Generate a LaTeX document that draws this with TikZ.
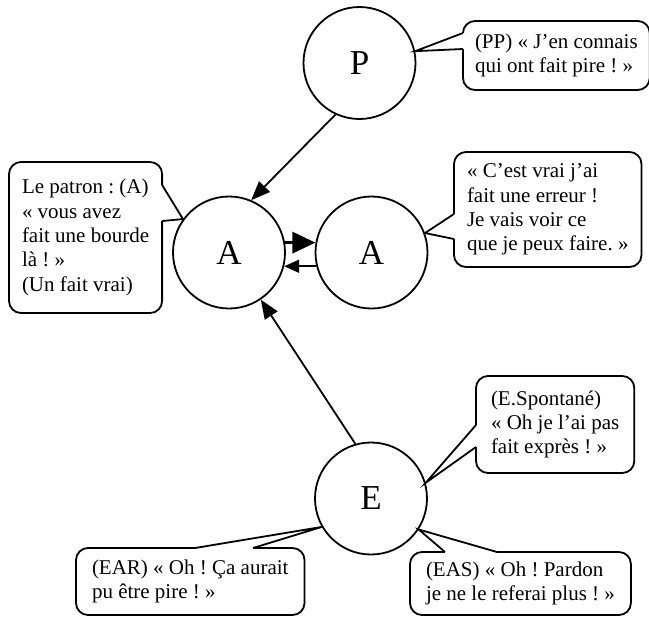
\documentclass[tikz,border=0pt]{standalone}
\usepackage{fontspec}
\setmainfont{Liberation Serif}
\usetikzlibrary{arrows.meta}
\frenchspacing

\tikzset{
  perso/.style={circle, draw, line width=0.9pt, minimum size=56pt, inner sep=0pt, font=\fontsize{17.5}{20}\selectfont},
  bulle/.style={draw, line width=0.9pt, rounded corners=6pt, anchor=north west, outer sep=0pt, inner ysep=0pt, align=left, font=\fontsize{10.5}{12.2}\selectfont},
  pointe/.style={draw, line width=0.9pt, line join=miter},
  fleche/.style={-{Triangle[length=9.5pt, width=7.5pt]}, line width=0.9pt}
}

\begin{document}
\begin{tikzpicture}[x=0.5pt, y=-0.5pt]
  \useasboundingbox (0,0) rectangle (649,617);

  % Personnages
  \node[perso] (P) at (359.5,63) {P};
  \node[perso] (A1) at (229,252.5) {A};
  \node[perso] (A2) at (371.5,252.5) {A};
  \node[perso] (E) at (371,498.5) {E};

  % Bulles
  \node[bulle, inner xsep=6.5pt, minimum height=75.5pt] (patron) at (9,162)
    {Le patron : (A)\\« vous avez\\fait une bourde\\là ! »\\(Un fait vrai)};
  \node[bulle, inner xsep=6pt, minimum height=34.5pt] (pp) at (463,21)
    {(PP) « J’en connais\\qui ont fait pire ! »};
  \node[bulle, inner xsep=6.5pt, minimum height=57.5pt] (vrai) at (454,152)
    {« C’est vrai j’ai\\fait une erreur !\\Je vais voir ce\\que je peux faire. »};
  \node[bulle, inner xsep=7.5pt, minimum height=48.5pt] (spontane) at (476,376)
    {(E.Spontané)\\« Oh je l’ai pas\\fait exprès ! »};
  \node[bulle, inner xsep=8pt, minimum height=33.5pt] (ear) at (76,548)
    {(EAR) « Oh ! Ça aurait\\pu être pire ! »};
  \node[bulle, inner xsep=8pt, minimum height=31.5pt] (eas) at (410,552)
    {(EAS) « Oh ! Pardon\\je ne le referai plus ! »};

  % Pointes des bulles (on efface le bord sous la pointe)
  \fill[white] ([xshift=-1pt, yshift=-11.5pt]patron.north east) rectangle ([xshift=1pt, yshift=-29.5pt]patron.north east);
  \draw[pointe] ([yshift=-11.5pt]patron.north east) -- (A1.144) -- ([yshift=-29.5pt]patron.north east);

  \fill[white] ([xshift=-1pt, yshift=-6pt]pp.north west) rectangle ([xshift=1pt, yshift=-14pt]pp.north west);
  \draw[pointe] ([yshift=-6pt]pp.north west) -- (P.12) -- ([yshift=-14pt]pp.north west);

  \fill[white] ([xshift=-1pt, yshift=-31pt]vrai.north west) rectangle ([xshift=1pt, yshift=-43.5pt]vrai.north west);
  \draw[pointe] ([yshift=-31pt]vrai.north west) -- (A2.20) -- ([yshift=-43.5pt]vrai.north west);

  \fill[white] ([xshift=-1pt, yshift=-24.5pt]spontane.north west) rectangle ([xshift=1pt, yshift=-35.5pt]spontane.north west);
  \draw[pointe] ([yshift=-24.5pt]spontane.north west) -- (E.16) -- ([yshift=-35.5pt]spontane.north west);

  \fill[white] ([xshift=59.5pt, yshift=1pt]ear.north west) rectangle ([xshift=88.5pt, yshift=-1pt]ear.north west);
  \draw[pointe] ([xshift=59.5pt]ear.north west) -- (E.210) -- ([xshift=88.5pt]ear.north west);

  \fill[white] ([xshift=17.5pt, yshift=1pt]eas.north west) rectangle ([xshift=43.5pt, yshift=-1pt]eas.north west);
  \draw[pointe] ([xshift=17.5pt]eas.north west) -- (E.327) -- ([xshift=43.5pt]eas.north west);

  % Fleches
  \draw[fleche] (P.245) -- (A1.67);
  \draw[fleche] (E.106) -- (A1.304);
  \draw[line width=1.6pt, -{Triangle[length=11.5pt, width=10.5pt]}] (A1.10) -- (A2.170);
  \draw[line width=0.9pt, -{Triangle[length=7.5pt, width=6.5pt]}] (A2.194) -- (A1.346);
\end{tikzpicture}
\end{document}
